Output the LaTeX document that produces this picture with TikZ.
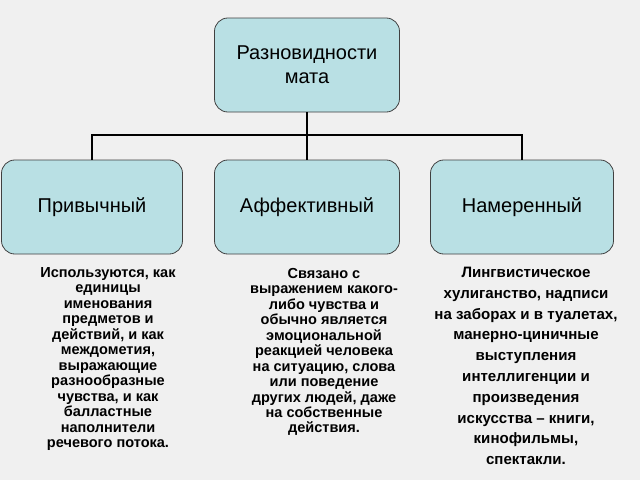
\documentclass[tikz,border=0pt]{standalone}
\usepackage{fontspec}
\setmainfont{Liberation Sans}
\begin{document}
\begin{tikzpicture}[x=0.75pt,y=-0.75pt,
 box/.style={draw=black!75,line width=0.6pt,fill=boxc,rounded corners=10pt,minimum width=185*0.75pt,minimum height=94*0.75pt,align=center,font=\fontsize{15}{18}\selectfont},
 desc/.style={align=center,font=\bfseries\fontsize{10.9}{11.6}\selectfont,inner sep=0pt},
 conn/.style={line width=1.2pt,black}]
\definecolor{boxc}{HTML}{B9E0E4}
\fill[gray!12] (0,0) rectangle (640,480);
\useasboundingbox (0,0) rectangle (640,480);
\node[box] (top) at (307,65) {Разновидности\\мата};
\node[box,minimum width=181*0.75pt] (l) at (92,207) {Привычный};
\node[box] (m) at (307,207) {Аффективный};
\node[box,minimum width=183*0.75pt] (r) at (522,207) {Намеренный};
\coordinate (j) at (307,135);
\draw[conn] (top.south) -- (m.north);
\draw[conn] (l.north) |- (j) -| (r.north);
\node[desc] (dl) at (108,359) {Используются, как\\единицы\\именования\\предметов и\\действий, и как\\междометия,\\выражающие\\разнообразные\\чувства, и как\\балластные\\наполнители\\речевого потока.};
\node[desc] (dm) at (324,352) {Связано с\\выражением какого-\\либо чувства и\\обычно является\\эмоциональной\\реакцией человека\\на ситуацию, слова\\или поведение\\других людей, даже\\на собственные\\действия.};
\node[desc,font=\bfseries\fontsize{11.3}{15.6}\selectfont] (dr) at (526,366) {Лингвистическое\\хулиганство, надписи\\на заборах и в туалетах,\\манерно-циничные\\выступления\\интеллигенции и\\произведения\\искусства – книги,\\кинофильмы,\\спектакли.};
\end{tikzpicture}
\end{document}
